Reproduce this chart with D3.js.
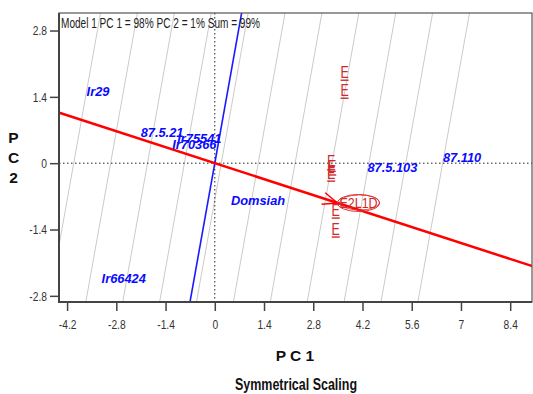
<!DOCTYPE html>
<html>
<head>
<meta charset="utf-8">
<script src="https://cdn.jsdelivr.net/npm/d3@7"></script>
<style>
	body { margin: 0; background: #fff; }
	svg { display: block; }
	text { font-family: "Liberation Sans", Arial, sans-serif; }
	.geno { font-weight: bold; font-style: italic; font-size: 13.5px; fill: #0a0aff; }
</style>
</head>
<body>
<svg id="chart" width="533" height="394"></svg>
<script>
	// genotypes (blue labels)
	var genoNames = [ "Ir29", "87.5.21", "Ir75541", "Ir70366", "Domsiah", "Ir66424", "87.5.103", "87.110" ];
	var genoPC1 = [ -3.32, -1.50, -0.44, -0.58, 1.23, -2.59, 5.05, 7.03 ];
	var genoPC2 = [ 1.52, 0.65, 0.53, 0.40, -0.78, -2.42, -0.08, 0.13 ];

	// environments (red E markers)
	var envPC1 = [ 3.69, 3.69, 3.31, 3.34, 3.31, 3.44, 3.44 ];
	var envPC2 = [ 1.92, 1.54, 0.03, -0.08, -0.21, -0.99, -1.39 ];

	// average environment (arrow tip of the ATC axis)
	var avgEnv = [ 3.49, -0.84 ];
	var avgEnvName = "E2L1D";

	// grey guide lines, perpendicular to the ATC axis (position along the axis)
	var guideT = [ -3.9, -2.88, -1.86, -0.84, 0.18, 1.2, 2.22, 3.24, 4.26, 5.28, 6.3 ];

	var xTicks = [ -4.2, -2.8, -1.4, 0, 1.4, 2.8, 4.2, 5.6, 7, 8.4 ];
	var yTicks = [ -2.8, -1.4, 0, 1.4, 2.8 ];

	var titleText = "Model 1 PC 1 = 98% PC 2 = 1% Sum = 99%";

	var pLeft = 59, pRight = 532, pTop = 13, pBottom = 302;

	var x = d3.scaleLinear().domain([ -4.43, 9.02 ]).range([ pLeft, pRight ]);
	var y = d3.scaleLinear().domain([ -2.93, 3.17 ]).range([ pBottom, pTop ]);

	var svg = d3.select("#chart");

	// squeeze text horizontally, the original uses a narrow font
	var narrow = function(sel, f) {
		sel.each(function() {
			var w = this.getComputedTextLength();
			d3.select(this).attr("textLength", w * f).attr("lengthAdjust", "spacingAndGlyphs");
		});
	};

	svg.append("defs").append("clipPath").attr("id", "plotClip")//
	.append("rect").attr("x", pLeft).attr("y", pTop).attr("width", pRight - pLeft).attr("height", pBottom - pTop);

	var plot = svg.append("g").attr("clip-path", "url(#plotClip)");

	// ATC direction in data units
	var len = Math.sqrt(avgEnv[0] * avgEnv[0] + avgEnv[1] * avgEnv[1]);
	var u = [ avgEnv[0] / len, avgEnv[1] / len ];
	var v = [ -u[1], u[0] ];
	var far = 20;

	var lineThrough = function(p, dir) {
		return [ [ p[0] - dir[0] * far, p[1] - dir[1] * far ], [ p[0] + dir[0] * far, p[1] + dir[1] * far ] ];
	};

	var path = d3.line().x(function(d) {
		return x(d[0]);
	}).y(function(d) {
		return y(d[1]);
	});

	// guide lines
	plot.selectAll(".guide").data(guideT).enter().append("path")//
	.attr("class", "guide")//
	.attr("d", function(t) {
		return path(lineThrough([ u[0] * t, u[1] * t ], v));
	})//
	.attr("stroke", "#bdbdbd").attr("stroke-width", 0.8).attr("fill", "none");

	// dotted zero lines
	plot.append("line").attr("x1", pLeft).attr("x2", pRight).attr("y1", y(0)).attr("y2", y(0))//
	.attr("stroke", "#222").attr("stroke-width", 1).attr("stroke-dasharray", "1.5,2.5");
	plot.append("line").attr("x1", x(0)).attr("x2", x(0)).attr("y1", pTop).attr("y2", pBottom)//
	.attr("stroke", "#222").attr("stroke-width", 1).attr("stroke-dasharray", "1.5,2.5");

	// ATC ordinate (blue) and abscissa (red)
	plot.append("path").attr("d", path(lineThrough([ 0, 0 ], v)))//
	.attr("stroke", "#1a1aff").attr("stroke-width", 1.6).attr("fill", "none");
	plot.append("path").attr("d", path(lineThrough([ 0, 0 ], u)))//
	.attr("stroke", "#ff0000").attr("stroke-width", 2.5).attr("fill", "none");

	// frame
	svg.append("rect").attr("x", pLeft).attr("y", pTop).attr("width", pRight - pLeft).attr("height", pBottom - pTop)//
	.attr("fill", "none").attr("stroke", "#555").attr("stroke-width", 1.2);
	svg.append("path").attr("d", "M" + pLeft + "," + pTop + "V" + pBottom + "H" + pRight)//
	.attr("fill", "none").attr("stroke", "#444").attr("stroke-width", 2);

	// axes
	var fmt = function(d) {
		return String(+d.toFixed(1));
	};
	var xAxis = svg.append("g").attr("transform", "translate(0," + pBottom + ")")//
	.call(d3.axisBottom(x).tickValues(xTicks).tickFormat(fmt).tickSize(9).tickPadding(8));
	var yAxis = svg.append("g").attr("transform", "translate(" + pLeft + ",0)")//
	.call(d3.axisLeft(y).tickValues(yTicks).tickFormat(fmt).tickSize(9).tickPadding(3));
	[ xAxis, yAxis ].forEach(function(a) {
		a.select(".domain").remove();
		a.selectAll(".tick line").attr("stroke", "#444").attr("stroke-width", 1.5);
		a.selectAll(".tick text").attr("fill", "#333").style("font-family", "'Liberation Sans', Arial, sans-serif")
				.style("font-size", "13.5px").call(narrow, 0.76);
	});

	// title inside plot
	svg.append("text").attr("x", pLeft + 2).attr("y", 28)//
	.style("font-size", "14.5px").attr("fill", "#222").text(titleText)//
	.attr("textLength", 199).attr("lengthAdjust", "spacingAndGlyphs");

	// environment markers
	var envGroup = plot.selectAll(".env").data(envPC1).enter().append("g").attr("class", "env")//
	.attr("transform", function(d, i) {
		return "translate(" + x(d) + "," + y(envPC2[i]) + ")";
	});
	envGroup.append("text").attr("text-anchor", "middle").attr("y", 5.5)//
	.style("font-size", "16px").attr("fill", "#d02a2a").text("E").call(narrow, 0.78);
	envGroup.append("line").attr("x1", -4).attr("x2", 4).attr("y1", 8).attr("y2", 8)//
	.attr("stroke", "#d02a2a").attr("stroke-width", 1.4);

	// average environment: arrow, circle and label
	var ax = x(avgEnv[0]), ay = y(avgEnv[1]);
	var ang = Math.atan2(y(avgEnv[1]) - y(0), x(avgEnv[0]) - x(0));
	var barb = function(da) {
		return "M" + (ax - 16 * Math.cos(ang + da)) + "," + (ay - 16 * Math.sin(ang + da)) + "L" + ax + "," + ay;
	};
	svg.append("path").attr("d", barb(0.38) + barb(-0.4)).attr("stroke", "#ff0000").attr("stroke-width", 1.5)
			.attr("fill", "none");
	svg.append("ellipse").attr("cx", ax + 21).attr("cy", ay).attr("rx", 21).attr("ry", 8.5)//
	.attr("fill", "none").attr("stroke", "#e03030").attr("stroke-width", 1);
	svg.append("ellipse").attr("cx", ax + 22).attr("cy", ay - 0.5).attr("rx", 20).attr("ry", 7.5)//
	.attr("fill", "none").attr("stroke", "#e03030").attr("stroke-width", 0.8);
	svg.append("text").attr("x", ax + 21).attr("y", ay + 5.5).attr("text-anchor", "middle")//
	.style("font-size", "14.5px").attr("fill", "#d02a2a").text(avgEnvName).call(narrow, 0.86);

	// genotype labels
	svg.selectAll(".geno").data(genoNames).enter().append("text")//
	.attr("class", "geno")//
	.attr("x", function(d, i) {
		return x(genoPC1[i]);
	}).attr("y", function(d, i) {
		return y(genoPC2[i]) + 5;
	}).attr("text-anchor", "middle").text(function(d) {
		return d;
	}).call(narrow, 0.95);

	// axis titles
	svg.append("text").attr("x", 295).attr("y", 361).attr("text-anchor", "middle")//
	.style("font-weight", "bold").style("font-size", "15.5px")//
	.attr("fill", "#111").text("P C 1");
	svg.append("text").attr("x", 296).attr("y", 390).attr("text-anchor", "middle")//
	.style("font-weight", "bold").style("font-size", "16px").attr("fill", "#111").text("Symmetrical Scaling")//
	.attr("textLength", 122).attr("lengthAdjust", "spacingAndGlyphs");
	svg.append("text").attr("x", 13.5).attr("y", 143).attr("text-anchor", "middle")//
	.style("font-weight", "bold").style("font-size", "15.5px")//
	.attr("fill", "#111").selectAll("tspan").data([ "P", "C", "2" ]).enter().append("tspan")//
	.attr("x", 13.5).attr("dy", function(d, i) {
		return i == 0 ? 0 : 20;
	}).text(function(d) {
		return d;
	});
</script>
</body>
</html>
